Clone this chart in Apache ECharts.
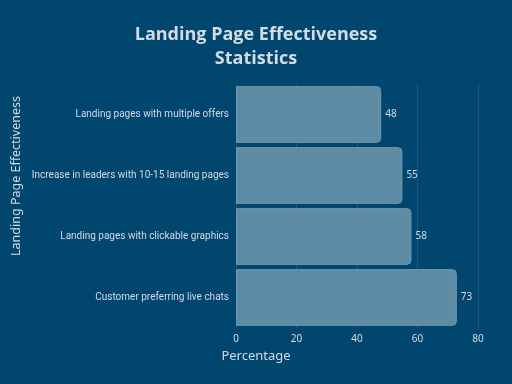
<!DOCTYPE html>
<html>
<head>
<meta charset="utf-8">
<script src="https://cdn.jsdelivr.net/npm/echarts@6/dist/echarts.min.js"></script>
<style>html,body{margin:0;padding:0;background:#00466e;}#c{width:512px;height:384px;}</style>
</head>
<body>
<div id="c"></div>
<script>
const categories = [
  "Landing pages with multiple offers",
  "Increase in leaders with 10-15 landing pages",
  "Landing pages with clickable graphics",
  "Customer preferring live chats"
];
const values = [48, 55, 58, 73];
const xTicks = [0, 20, 40, 60, 80];

const txt = '#d3dbe3';
const font = 'Noto Sans';
const chart = echarts.init(document.getElementById('c'));
chart.setOption({
  backgroundColor: '#00466e',
  animation: false,
  title: {
    text: 'Landing Page Effectiveness\nStatistics',
    left: 'center',
    top: 18,
    textStyle: { color: txt, fontFamily: 'Open Sans', fontWeight: 'bold', fontSize: 18, lineHeight: 24 }
  },
  grid: { left: 236, right: 34, top: 84, bottom: 56, containLabel: false },
  xAxis: {
    type: 'value', min: xTicks[0], max: xTicks[xTicks.length - 1], interval: 20,
    name: 'Percentage', nameLocation: 'middle', nameGap: 22,
    nameTextStyle: { color: txt, fontFamily: font, fontSize: 13, padding: [0, 202, 0, 0] },
    axisLine: { show: false }, axisTick: { show: false },
    axisLabel: { color: txt, fontFamily: font, fontSize: 10, margin: 6 },
    splitLine: { show: true, lineStyle: { color: '#1d5a80', width: 1 } }
  },
  yAxis: {
    type: 'category', data: categories, inverse: true,
    name: 'Landing Page Effectiveness', nameLocation: 'middle', nameGap: 213, nameRotate: 90,
    nameTextStyle: { color: txt, fontFamily: font, fontSize: 12.5, padding: [0, 0, 0, 60] },
    axisLine: { show: false }, axisTick: { show: false },
    axisLabel: { color: txt, fontFamily: 'Roboto', fontSize: 10, margin: 7 }
  },
  series: [{
    type: 'bar', data: values, barCategoryGap: '7%',
    itemStyle: { color: '#5e8ca5', borderColor: '#7098af', borderWidth: 1, borderRadius: [0, 4, 4, 0] },
    label: { show: true, position: 'right', distance: 4, color: txt, fontFamily: font, fontSize: 10 }
  }]
});
</script>
</body>
</html>
